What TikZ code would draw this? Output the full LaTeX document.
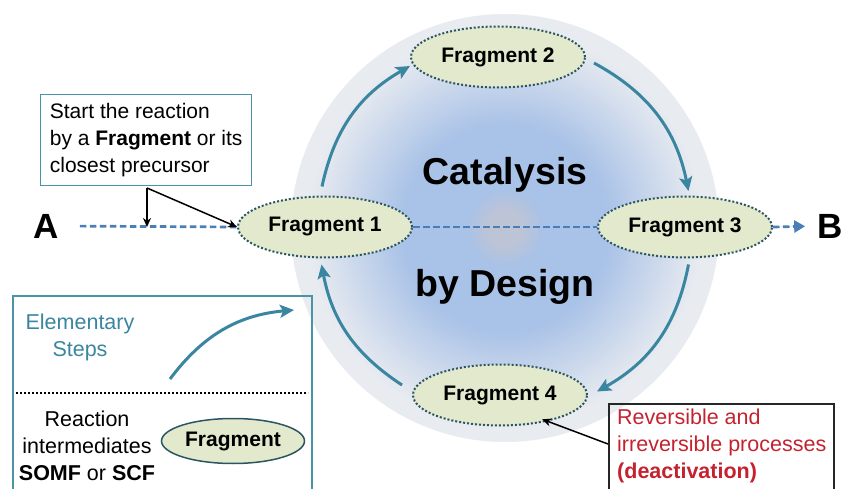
\documentclass[tikz,border=0pt]{standalone}
\usepackage{fontspec}
\setmainfont{Liberation Sans}
\usetikzlibrary{arrows.meta,positioning,shapes.geometric}
\definecolor{steptl}{HTML}{3A86A0}
\definecolor{flowbl}{HTML}{4A7EB7}
\definecolor{fragfill}{HTML}{E3E9CD}
\definecolor{fragline}{HTML}{2B5563}
\definecolor{boxtl}{HTML}{4A93A8}
\definecolor{deact}{HTML}{C4222F}
\definecolor{glowmid}{HTML}{BDC4D6}
\definecolor{glowblue}{HTML}{A9C2E7}
\definecolor{glowedge}{HTML}{E8EBF0}
\pgfdeclareradialshading{glow}{\pgfpointorigin}{color(0bp)=(glowmid); color(2bp)=(glowmid); color(4.5bp)=(glowblue); color(12bp)=(glowblue); color(23bp)=(glowedge); color(25bp)=(glowedge); color(50bp)=(glowedge)}

\begin{document}
\begin{tikzpicture}[x=1pt,y=-1pt,font=\fontsize{21.5}{27}\selectfont,
  frag/.style={ellipse,draw=fragline,line width=2pt,dotted,fill=fragfill,inner sep=0pt,
    minimum width=174pt,minimum height=61pt,font=\fontsize{21}{25}\selectfont\bfseries},
  big/.style={inner sep=0pt,font=\fontsize{37.5}{40}\selectfont\bfseries},
  stepline/.style={draw=steptl,line width=3pt,-{Stealth[length=14pt,width=13pt,inset=3pt]}},
  flow/.style={draw=flowbl,line width=2.7pt,dash pattern=on 6.5pt off 3.5pt},
  ptr/.style={draw=black,line width=1.5pt,-{Stealth[length=9pt,width=8pt]}},
  note/.style={align=left,inner sep=0pt}]
\useasboundingbox (0,0) rectangle (841,489);
% catalytic cycle
\shade[shading=glow] (505,228) circle[radius=214pt];
\node[frag] (f1) at (325,227) {Fragment 1};
\node[frag] (f2) at (498,57) {Fragment 2};
\node[frag] (f3) at (685,227) {Fragment 3};
\node[frag] (f4) at (500,395) {Fragment 4};
\node[big,anchor=base] (cat) at (505,185) {Catalysis};
\node[big,anchor=base] (des) at (505,297) {by Design};
\node[big,font=\fontsize{35}{38}\selectfont\bfseries] (A) at (46,226) {A};
\node[big,font=\fontsize{35}{38}\selectfont\bfseries] (B) at (830,226) {B};
\draw[flow,shorten <=21pt] (A.east) -- (f1.west);
\draw[flow] (f1.east) -- (f3.west);
\draw[flow,shorten >=12pt,-{Triangle[length=11pt,width=12pt]},fill=flowbl] (f3.east) -- (B.west);
\draw[stepline] ([xshift=-3pt,yshift=9pt]f1.north) to[bend left=24] ([yshift=-9pt]f2.west);
\draw[stepline] ([xshift=8pt,yshift=-6pt]f2.east) to[bend left=25] ([xshift=3.5pt,yshift=4.5pt]f3.north);
\draw[stepline] ([xshift=3.5pt,yshift=-6pt]f3.south) to[bend left=25] ([xshift=9pt,yshift=3.5pt]f4.east);
\draw[stepline] ([xshift=-10pt,yshift=10pt]f4.west) to[bend left=23] ([xshift=-3.5pt,yshift=-6pt]f1.south);
% start note
\node[draw=boxtl,line width=1.3pt,align=left,anchor=north west,inner xsep=6.5pt,
  minimum width=211pt,minimum height=91pt,font=\fontsize{21}{27}\selectfont] (start) at (40,94)
  {Start the reaction\\by a \textbf{Fragment} or its\\closest precursor};
\coordinate (split) at (147,188);
\draw[ptr] (split) -- (split |- f1.west);
\draw[ptr] (split) -- (f1.west);
% legend
\draw[boxtl,line width=1.3pt] (13,495) |- (312,296) -- (312,495);
\draw[black,line width=2pt,dotted] (16,393) -- (308,393);
\node[align=center,inner sep=0pt,text=steptl] (elem) at (80,337) {Elementary\\Steps};
\coordinate (es0) at (170,379);
\coordinate (es1) at (294,310);
\draw[stepline] (es0) to[bend left=24] (es1);
\node[align=center,inner sep=0pt] (inter) at (87,446) {Reaction\\intermediates\\\textbf{SOMF} or \textbf{SCF}};
\node[frag,solid,line width=1.5pt,minimum width=143pt,minimum height=45pt] (legfrag) at (233,441) {Fragment};
% deactivation note
\draw[black!85,line width=1.3pt] (609,495) |- (834,404) -- (834,495);
\node[note,anchor=west,text=deact] (rev) at (617,446) {Reversible and\\irreversible processes\\\textbf{(deactivation)}};
\draw[ptr] (608,444) -- ([xshift=-20pt,yshift=-2pt]f4.south east);
\end{tikzpicture}
\end{document}
